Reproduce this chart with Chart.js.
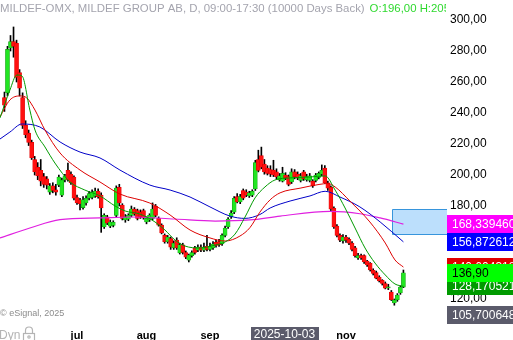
<!DOCTYPE html>
<html>
<head>
<meta charset="utf-8">
<script src="https://cdn.jsdelivr.net/npm/chart.js@4.4.1/dist/chart.umd.min.js"></script>
<style>
  html, body { margin: 0; padding: 0; background: #fff; overflow: hidden; }
  #wrap { width: 513px; height: 340px; overflow: hidden; }
</style>
</head>
<body>
<div id="wrap"><canvas id="myChart" width="513" height="343"></canvas></div>
<script>
// daily candles, one per trading day (index 0 .. 132)
const opens = [
  250, 253, 282, 286, 285, 266, 250, 232, 227, 221,
  210, 205, 203, 199, 197.5, 189, 193, 190.5, 193.5, 187,
  196.8, 203, 200.5, 198.7, 185.5, 184, 179, 182, 185, 185.5,
  186.5, 189.5, 187, 166.5, 173, 167, 167.5, 174, 192, 180.6,
  171, 171.5, 174, 178, 177, 176, 177, 169.7, 171, 172,
  180, 172, 167.7, 161, 157, 159, 153, 158, 149.7, 155,
  150, 145, 148, 153, 151.5, 153.5, 151.5, 154, 152, 153,
  156.5, 157, 155.5, 161, 166.5, 173, 176, 186, 182.6, 190,
  189, 186.5, 187, 191, 210, 212.5, 207, 204.5, 203.5, 203,
  202, 197, 196, 200, 199, 195.5, 202, 200.5, 196.5, 202,
  197, 196.5, 196, 196.5, 198.5, 200.5, 204.5, 195, 192, 178.5,
  167, 161, 157.5, 160, 158.5, 156, 153, 146.5, 148, 148,
  144.5, 143, 138.5, 137, 134, 132, 130, 127.1, 124.5, 117.4,
  119.5, 123.9, 127.7
];
const highs = [
  253.5, 283, 290, 295.5, 287, 268, 253, 235, 229, 222.5,
  212, 208, 210, 201, 199, 194.5, 195, 194, 200, 198,
  200.5, 207.7, 202, 199.5, 187, 185, 186, 186.5, 189.5, 190.5,
  191.5, 191, 188.5, 175, 174, 171, 170.5, 193, 194, 181.5,
  174.5, 175, 180, 179, 178, 177.5, 178, 173, 175, 182,
  181, 173, 168.5, 162, 161, 160, 157.5, 159.5, 156, 156,
  151, 149, 151, 154, 155, 155, 156, 161, 156, 157,
  158, 158.5, 162, 167, 172.5, 177, 186, 188, 187.5, 191,
  190.5, 189.5, 190.5, 209.5, 216, 218, 210, 206, 206, 209.5,
  204, 201, 205, 201.5, 200, 204, 203.5, 202, 201, 203,
  200.5, 201, 197, 201, 202, 206.5, 206, 196, 193, 179.5,
  168, 162, 161.5, 161, 159.5, 157, 154, 149.5, 149, 148.5,
  145, 143.5, 139.5, 138, 135, 132.5, 131, 129.5, 125.5, 120,
  123.5, 128.5, 138.7
];
const lows = [
  241, 251, 280, 276, 260, 251, 230, 224, 219, 210,
  200, 197, 193, 192, 191, 187.5, 188.5, 187, 192.5, 186,
  195.5, 196, 194, 184, 181, 177.4, 178, 180.5, 184, 184.5,
  185.5, 185, 163, 165.5, 168, 166, 166.5, 173, 180, 171,
  169.5, 170.5, 173, 174, 171, 172, 171.5, 168.5, 170, 171,
  173, 167, 162, 156, 156, 152, 152, 152, 149, 149,
  146, 143.9, 147, 149, 150.5, 150.5, 150.5, 151, 151, 152,
  153.5, 154, 154.5, 160, 165.5, 172, 175, 182, 181.5, 184,
  186, 185.5, 186, 190, 202, 204, 200.5, 200, 199, 199,
  197.5, 196, 195.5, 197, 193, 194.5, 197.5, 197, 195.5, 196.5,
  196, 195.5, 192, 195.5, 197.5, 199.5, 194.5, 190, 177, 165.5,
  160, 157, 156, 156.5, 155, 151, 147, 145.5, 145.5, 143,
  141, 138, 135.5, 133, 131, 129, 126.5, 126, 119, 116,
  118.5, 123, 127.3
];
const closes = [
  245, 281, 286, 283, 263, 256, 232, 226, 221, 211,
  202, 199.5, 196, 194, 193.5, 193, 190, 189, 198.7, 196.8,
  199.4, 196.8, 195, 185, 182, 181.5, 184, 185, 188, 189,
  189.7, 186, 178.7, 174, 169, 169.7, 169.5, 191.6, 182, 172,
  173, 174, 178, 175, 172, 173, 172.5, 172, 174, 178,
  174, 167.7, 162.6, 157, 160, 153.5, 156, 153, 155, 150,
  147, 148.4, 150, 150, 153.5, 151.5, 153.5, 152, 154, 155.5,
  154.5, 155, 161, 165.8, 171.6, 175.5, 185, 182.6, 186, 185,
  187, 188.5, 189.5, 208, 203, 205, 202, 201, 200.5, 200,
  199, 199.5, 201, 198, 194, 202, 199, 198, 199.5, 197.5,
  199, 199.5, 193, 200, 201, 203, 195, 191.5, 178, 166.5,
  161, 158, 160, 158, 156, 152, 148, 148, 146.5, 144,
  142, 138.7, 136.5, 133.5, 131.6, 130, 127, 127.8, 119.5, 119.4,
  122.6, 127.7, 136.9
];

// moving averages, [candle index, value]
const maGreen = [
  [-1.5, 236.8], [1.8, 254.8], [4.1, 264.5], [5.8, 263.9], [8.4, 241.9], [10.1, 229],
  [13.4, 218.1], [16.7, 207.7], [21.7, 195.5], [26.6, 190.3], [31.6, 186.5], [36.6, 180],
  [39.9, 176.8], [44.8, 174.8], [49.8, 169.7], [53.1, 164.5], [56.4, 158.1], [59.7, 154.2],
  [64.7, 152.9], [69.7, 154.8], [73, 156.8], [76.3, 161.9], [79.6, 172.9], [82.9, 185.2],
  [86.2, 192.3], [89.5, 196.8], [94.5, 198.1], [101.1, 198.7], [106.1, 199.4], [109.4, 190.3],
  [112.7, 178.7], [116, 165.8], [119.3, 152.9], [122.6, 143.2], [126, 135.5], [129.2, 129.7],
  [132, 128.17]
];
const maRed = [
  [-1.5, 237.4], [1.8, 248.4], [5.1, 251], [7.4, 249.7], [10.1, 241.9], [13.4, 229],
  [18.4, 214.2], [25, 203.2], [31.6, 195.5], [38.2, 187.7], [48.1, 181.9], [54.8, 174.2],
  [61.4, 164.5], [68, 159.4], [73, 157.4], [77.9, 160.6], [81.2, 166], [84.5, 176],
  [87.9, 184], [91.2, 188.5], [97.8, 191.5], [104.4, 194], [107, 194.5], [109.4, 192.3],
  [114.3, 183.2], [120.9, 169.7], [126, 156.1], [129.2, 145.2], [132, 140.6]
];
const maBlue = [
  [-1.5, 223.2], [1.8, 227.7], [5.8, 232.9], [11.7, 231], [18.4, 221.3], [25, 214.8],
  [31.6, 211], [38.2, 203.2], [48.1, 193.5], [54.8, 190.3], [61.4, 185.8], [68, 179.4],
  [74.6, 173.5], [79.6, 172], [84.5, 174.5], [87.9, 178.7], [94.5, 183.2], [101.1, 186.5],
  [106.1, 189.5], [111, 185.8], [117.6, 179.4], [124.3, 169.7], [132, 156.87]
];
const maMagenta = [
  [-1.5, 159.4], [8.4, 165.8], [18.4, 171.2], [31.6, 172.3], [41.5, 172.9], [56.4, 171.6],
  [69.7, 170.3], [81.2, 171], [91.2, 173.5], [107.7, 176.5], [117.6, 175], [124.3, 172.3],
  [132, 168.34]
];

const monthIdx = [24, 47, 68, 113];
const monthNames = ["jul", "aug", "sep", "nov"];
const yTicks = [120, 140, 160, 180, 200, 220, 240, 260, 280, 300];
const cursorIdx = 92;
const cursorDate = "2025-10-03";

// price tags on the right axis
const tagValues = [105.700648, 128.170521, 140.604318, 136.90, 156.872612, 168.339460];
const tagTexts = ["105,700648", "128,170521", "140,604318", "136,90", "156,872612", "168,339460"];
const tagBg = ["#5b5b6b", "#009a00", "#e00000", "#00ff00", "#0000ff", "#ff00ff"];
const tagFg = ["#fff", "#fff", "#fff", "#000", "#fff", "#fff"];

// shaded zone at the right
const zoneFrom = 128.2;
const zoneTop = 178;
const zoneBottom = 162;

const title = "MILDEF-OMX, MILDEF GROUP AB, D, 09:00-17:30 (10000 Days Back)";
const titleOhlc = "O:196,00 H:205,00 L:195,50 C:201,00";

const GREEN = "#22e622";
const RED = "#ff1010";

const wicks = opens.map((o, i) => ({ x: i, y: [lows[i], highs[i]] }));
const bodies = opens.map((o, i) => ({ x: i, y: [o, closes[i]] }));
const bodyFill = opens.map((o, i) => (closes[i] >= o ? GREEN : RED));
const bodyEdge = opens.map((o, i) => (closes[i] >= o ? "#109a10" : "#e00000"));
const toXY = arr => arr.map(p => ({ x: p[0], y: p[1] }));

const overlay = {
  id: "overlay",
  beforeDatasetsDraw(chart) {
    const { ctx, chartArea, scales: { x, y } } = chart;
    const left = Math.round(x.getPixelForValue(zoneFrom)) + 0.5;
    const top = Math.round(y.getPixelForValue(zoneTop)) + 0.5;
    const bottom = Math.round(y.getPixelForValue(zoneBottom)) + 0.5;
    ctx.save();
    ctx.fillStyle = "#bcdffc";
    ctx.fillRect(left, top, chartArea.right - left, bottom - top);
    ctx.strokeStyle = "#3795dc";
    ctx.lineWidth = 1;
    ctx.beginPath();
    ctx.moveTo(chartArea.right, top);
    ctx.lineTo(left, top);
    ctx.lineTo(left, bottom);
    ctx.lineTo(chartArea.right, bottom);
    ctx.stroke();
    ctx.restore();
  },
  afterDraw(chart) {
    const { ctx, chartArea, scales: { x, y } } = chart;
    ctx.save();

    // title
    ctx.save();
    ctx.beginPath();
    ctx.rect(0, 0, chartArea.right - 1, 20);
    ctx.clip();
    ctx.font = '11.4px "Liberation Sans"';
    ctx.textBaseline = "middle";
    ctx.fillStyle = "#a4a4ae";
    ctx.fillText(title, 0, 9);
    const tw = ctx.measureText(title).width;
    ctx.fillStyle = "#2fd92f";
    ctx.fillText(titleOhlc, tw + 5, 9);
    ctx.restore();

    // price tags
    ctx.font = '12px "Liberation Sans"';
    ctx.textBaseline = "middle";
    tagValues.forEach((v, i) => {
      let cy = y.getPixelForValue(v);
      cy = Math.min(cy, chartArea.bottom - 11);
      ctx.fillStyle = tagBg[i];
      ctx.fillRect(chartArea.right, Math.round(cy - 9), 70, 18);
      ctx.fillStyle = tagFg[i];
      ctx.fillText(tagTexts[i], chartArea.right + 5, cy + 0.5);
    });

    // cursor date
    const cx = x.getPixelForValue(cursorIdx) + 2;
    ctx.fillStyle = "#5b5b6b";
    ctx.fillRect(Math.round(cx - 34), 327, 68, 16);
    ctx.fillStyle = "#fff";
    ctx.textAlign = "center";
    ctx.fillText(cursorDate, cx, 334.5);

    // copyright + Dyn lock
    ctx.textAlign = "left";
    ctx.fillStyle = "#8c8c8c";
    ctx.font = '9px "Liberation Sans"';
    ctx.fillText("\u00a9 eSignal, 2025", 0, 314);
    ctx.fillStyle = "#b4b4b4";
    ctx.font = '12px "Liberation Sans"';
    ctx.textBaseline = "alphabetic";
    ctx.fillText("Dyn", -1, 339);
    ctx.strokeStyle = "#b4b4b4";
    ctx.lineWidth = 1.2;
    ctx.beginPath();
    ctx.arc(29, 330.5, 3.5, Math.PI, 0);
    ctx.moveTo(25.5, 330.5);
    ctx.lineTo(25.5, 333);
    ctx.moveTo(32.5, 330.5);
    ctx.lineTo(32.5, 333);
    ctx.stroke();
    ctx.strokeRect(23.5, 333.5, 11, 8);
    ctx.beginPath();
    ctx.arc(29, 337, 1.2, 0, Math.PI * 2);
    ctx.stroke();

    ctx.restore();
  }
};

const ctx = document.getElementById("myChart").getContext("2d");
const chart = new Chart(ctx, {
  type: "bar",
  data: {
    datasets: [
      {
        type: "line", data: toXY(maGreen), borderColor: "#009a00", borderWidth: 1,
        pointRadius: 0, cubicInterpolationMode: "monotone", order: 1
      },
      {
        type: "line", data: toXY(maRed), borderColor: "#dd0000", borderWidth: 1,
        pointRadius: 0, cubicInterpolationMode: "monotone", order: 1
      },
      {
        type: "line", data: toXY(maBlue), borderColor: "#0000c8", borderWidth: 1,
        pointRadius: 0, cubicInterpolationMode: "monotone", order: 1
      },
      {
        type: "line", data: toXY(maMagenta), borderColor: "#e020e0", borderWidth: 1.2,
        pointRadius: 0, cubicInterpolationMode: "monotone", order: 1
      },
      {
        type: "bar", data: bodies, backgroundColor: bodyFill, borderColor: bodyEdge,
        borderWidth: 0.6, borderSkipped: false, barThickness: 4, grouped: false,
        minBarLength: 1, order: 2
      },
      {
        type: "bar", data: wicks, backgroundColor: "#000", barThickness: 1,
        grouped: false, order: 3
      }
    ]
  },
  options: {
    responsive: false,
    devicePixelRatio: 1,
    animation: false,
    layout: { padding: 0 },
    plugins: { legend: { display: false }, tooltip: { enabled: false } },
    scales: {
      x: {
        type: "linear",
        offset: false,
        min: -1.475,
        max: 146.42,
        grid: { display: false, drawTicks: false },
        border: { display: false },
        afterBuildTicks: s => { s.ticks = monthIdx.map(v => ({ value: v })); },
        afterFit: s => { s.height = 17; s.paddingLeft = 0; s.paddingRight = 0; },
        ticks: {
          autoSkip: false, maxRotation: 0, padding: 3, color: "#000",
          font: { family: "Liberation Sans", size: 11, weight: "bold" },
          callback: v => monthNames[monthIdx.indexOf(v)] || ""
        }
      },
      y: {
        position: "right",
        min: 102.58,
        max: 312.9,
        grid: { display: false, drawTicks: false },
        border: { display: false },
        afterBuildTicks: s => { s.ticks = yTicks.map(v => ({ value: v })); },
        afterFit: s => { s.width = 66; s.paddingTop = 0; s.paddingBottom = 0; },
        ticks: {
          padding: 3, color: "#000",
          font: { family: "Liberation Sans", size: 12 },
          callback: v => v.toFixed(2).replace(".", ",")
        }
      }
    }
  },
  plugins: [overlay]
});
</script>
</body>
</html>
